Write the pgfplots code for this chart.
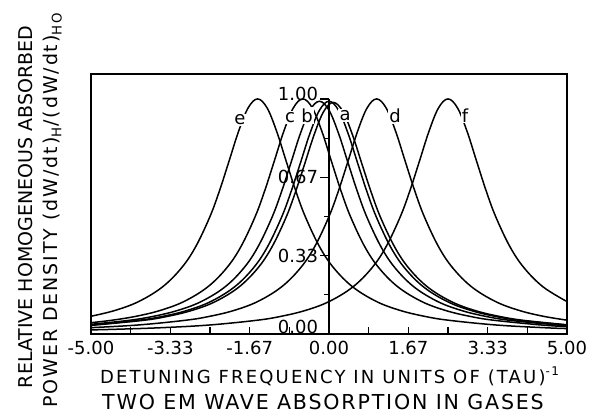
\documentclass[border=0pt]{standalone}
\usepackage{fontspec}
\setmainfont{DejaVu Sans}
\usepackage{pgfplots}
\pgfplotsset{compat=1.18}

\begin{document}
\begin{tikzpicture}
\useasboundingbox (-45.5pt,-42.5pt) rectangle (251.5pt,167pt);
\begin{axis}[
  scale only axis, width=238pt, height=130pt,
  xmin=-5, xmax=5, ymin=0, ymax=1.106,
  axis line style={line width=0.8pt},
  xtick={-5,-3.3333,-1.6667,0,1.6667,3.3333,5},
  xticklabels={-5.00,-3.33,-1.67,0.00,1.67,3.33,5.00},
  minor xtick={-4.1667,-2.5,-0.8333,0.8333,2.5,4.1667},
  ytick=\empty,
  xtick pos=bottom, tick align=inside,
  major tick length=3.5pt, minor tick length=3.5pt,
  tick style={line width=0.6pt, black},
  tick label style={font=\fontsize{9}{10}\selectfont},
  cycle list={{black, solid, no marks}},
  every axis plot/.append style={line width=0.75pt, smooth, tension=0.6},
  clip mode=individual,
]
% e
\addplot coordinates {(-5.0,0.0755)(-4.5,0.1)(-4.0,0.1379)(-3.5,0.2)(-3.1,0.2809)(-2.8,0.3717)
  (-2.5,0.5)(-2.3,0.6098)(-2.1,0.7353)(-1.9,0.8621)(-1.7,0.9615)(-1.5,1)(-1.3,0.9615)
  (-1.1,0.8621)(-0.9,0.7353)(-0.7,0.6098)(-0.5,0.5)(-0.2,0.3717)(0.1,0.2809)(0.5,0.2)
  (1.0,0.1379)(1.5,0.1)(2.0,0.0755)(2.5,0.0588)(3.5,0.0385)(4.5,0.027)(5.0,0.0231)};
% c
\addplot coordinates {(-5.0,0.0481)(-4.55,0.0588)(-4.05,0.0755)(-3.55,0.1)(-3.05,0.1379)
  (-2.55,0.2)(-2.15,0.2809)(-1.85,0.3717)(-1.55,0.5)(-1.35,0.6098)(-1.15,0.7353)
  (-0.95,0.8621)(-0.75,0.9615)(-0.55,1)(-0.35,0.9615)(-0.15,0.8621)(0.05,0.7353)
  (0.25,0.6098)(0.45,0.5)(0.75,0.3717)(1.05,0.2809)(1.45,0.2)(1.95,0.1379)(2.45,0.1)
  (2.95,0.0755)(3.45,0.0588)(4.45,0.0385)(5.0,0.0314)};
% b
\addplot coordinates {(-5.0,0.0412)(-4.2,0.0582)(-3.7,0.0747)(-3.2,0.099)(-2.7,0.1365)
  (-2.2,0.198)(-1.8,0.2781)(-1.5,0.368)(-1.2,0.495)(-1.0,0.6037)(-0.8,0.7279)
  (-0.6,0.8535)(-0.4,0.9519)(-0.2,0.99)(0.0,0.9519)(0.2,0.8535)(0.4,0.7279)
  (0.6,0.6037)(0.8,0.495)(1.1,0.368)(1.4,0.2781)(1.8,0.198)(2.3,0.1365)(2.8,0.099)
  (3.3,0.0747)(3.8,0.0582)(4.8,0.0381)(5.0,0.0353)};
% a
\addplot coordinates {(-5.0,0.0381)(-4.0,0.0582)(-3.5,0.0747)(-3.0,0.099)(-2.5,0.1365)
  (-2.0,0.198)(-1.6,0.2781)(-1.3,0.368)(-1.0,0.495)(-0.8,0.6037)(-0.6,0.7279)
  (-0.4,0.8535)(-0.2,0.9519)(0.0,0.99)(0.2,0.9519)(0.4,0.8535)(0.6,0.7279)
  (0.8,0.6037)(1.0,0.495)(1.3,0.368)(1.6,0.2781)(2.0,0.198)(2.5,0.1365)(3.0,0.099)
  (3.5,0.0747)(4.0,0.0582)(5.0,0.0381)};
% unlabelled, next to a
\addplot coordinates {(-5.0,0.0366)(-3.91,0.0579)(-3.41,0.0744)(-2.91,0.0985)(-2.41,0.1358)
  (-1.91,0.197)(-1.51,0.2767)(-1.21,0.3661)(-0.91,0.4925)(-0.71,0.6007)(-0.51,0.7243)
  (-0.31,0.8492)(-0.11,0.9471)(0.09,0.985)(0.29,0.9471)(0.49,0.8492)(0.69,0.7243)
  (0.89,0.6007)(1.09,0.4925)(1.39,0.3661)(1.69,0.2767)(2.09,0.197)(2.59,0.1358)
  (3.09,0.0985)(3.59,0.0744)(4.09,0.0579)(5.0,0.0392)};
% d
\addplot coordinates {(-5.0,0.027)(-4.0,0.0385)(-3.0,0.0588)(-2.5,0.0755)(-2.0,0.1)
  (-1.5,0.1379)(-1.0,0.2)(-0.6,0.2809)(-0.3,0.3717)(0.0,0.5)(0.2,0.6098)(0.4,0.7353)
  (0.6,0.8621)(0.8,0.9615)(1.0,1)(1.2,0.9615)(1.4,0.8621)(1.6,0.7353)(1.8,0.6098)
  (2.0,0.5)(2.3,0.3717)(2.6,0.2809)(3.0,0.2)(3.5,0.1379)(4.0,0.1)(4.5,0.0755)(5.0,0.0588)};
% f
\addplot coordinates {(-5.0,0.0175)(-4.5,0.02)(-3.5,0.027)(-2.5,0.0385)(-1.5,0.0588)
  (-1.0,0.0755)(-0.5,0.1)(0.0,0.1379)(0.5,0.2)(0.9,0.2809)(1.2,0.3717)(1.5,0.5)
  (1.7,0.6098)(1.9,0.7353)(2.1,0.8621)(2.3,0.9615)(2.5,1)(2.7,0.9615)(2.9,0.8621)
  (3.1,0.7353)(3.3,0.6098)(3.5,0.5)(3.8,0.3717)(4.1,0.2809)(4.5,0.2)(5.0,0.1379)};
\begin{scope}[every node/.style={font=\fontsize{9}{10}\selectfont, fill=white, inner sep=0.6pt}]
\node at (axis cs:-1.87,0.91) {e};
\node at (axis cs:-0.82,0.92) {c};
\node at (axis cs:-0.46,0.93) {b};
\node at (axis cs:0.34,0.93) {a};
\node at (axis cs:1.39,0.93) {d};
\node at (axis cs:2.86,0.93) {f};
\end{scope}
\end{axis}
% vertical axis at zero detuning
\begin{axis}[
  at={(119pt,0pt)}, scale only axis, width=119pt, height=117.54pt,
  xmin=0, xmax=1, ymin=0, ymax=1,
  axis x line=none, axis y line=left,
  y axis line style={-, line width=0.8pt},
  ytick={0,0.3333,0.6667,1},
  yticklabels={\raisebox{3.5pt}[\height][\depth]{0.00},0.33,0.67,\raisebox{2.5pt}[\height][\depth]{1.00}},
  minor ytick={0.1667,0.5,0.8333},
  tick align=outside,
  major tick length=4.5pt, minor tick length=2.5pt,
  tick style={line width=0.6pt, black},
  yticklabel style={font=\fontsize{9}{10}\selectfont, inner sep=0.8pt},
]
\end{axis}
\node[rotate=90, anchor=base, font=\fontsize{9.5}{11}\selectfont]
  at (-29pt,63.5pt) {RELATIVE HOMOGENEOUS ABSORBED};
\node[rotate=90, anchor=base, font=\fontsize{9.5}{11}\selectfont\addfontfeature{LetterSpace=10}]
  at (-16.5pt,62pt) {POWER DENSITY (dW/dt)\textsubscript{H}/(dW/dt)\textsubscript{HO}};
\node[anchor=base, font=\fontsize{9}{10}\selectfont\addfontfeature{LetterSpace=12}]
  at (119.5pt,-24.5pt) {DETUNING FREQUENCY IN UNITS OF (TAU)\textsuperscript{-1}};
\node[anchor=base, font=\fontsize{10.3}{12}\selectfont\addfontfeature{LetterSpace=8.7}]
  at (116pt,-37.5pt) {TWO EM WAVE ABSORPTION IN GASES};
\end{tikzpicture}
\end{document}
